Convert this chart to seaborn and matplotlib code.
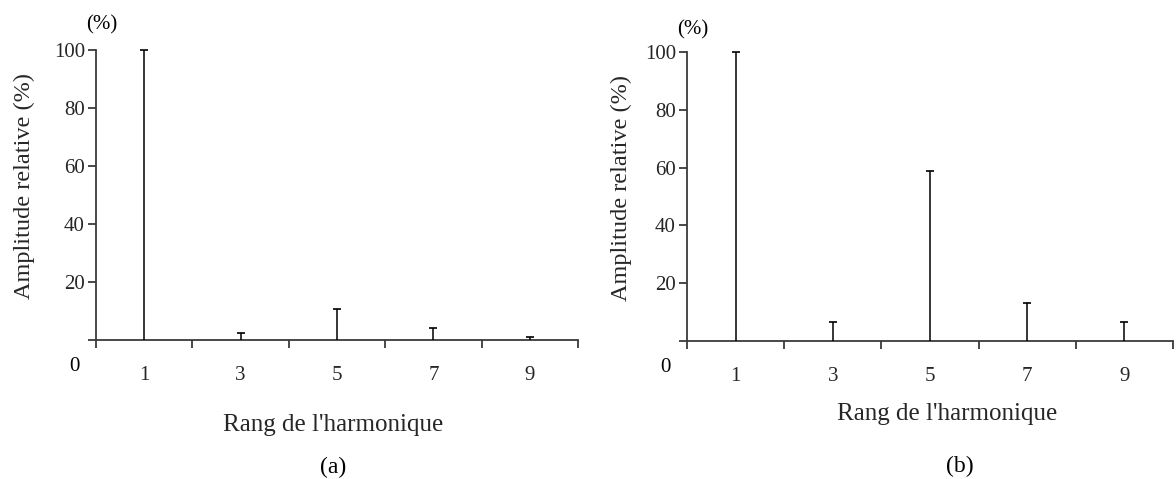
import numpy as np
import pandas as pd
import matplotlib
matplotlib.use("Agg")
import matplotlib.pyplot as plt
import seaborn as sns

# harmonic ranks and relative amplitudes (%)
rangs = [1, 3, 5, 7, 9]
amplitude_a = [100, 2.5, 10.8, 4.3, 1.0]
amplitude_b = [100, 6.6, 59, 13.2, 6.6]
panel_names = ["(a)", "(b)"]
y_ticks = [0, 20, 40, 60, 80, 100]
y_tick_labels = ["", "20", "40", "60", "80", "100"]
x_major = [0, 2, 4, 6, 8, 10]

sns.set_style("ticks")
plt.rcParams["font.family"] = ["Liberation Serif", "DejaVu Serif"]
plt.rcParams["text.color"] = "black"

fig = plt.figure(figsize=(11.76, 4.79), dpi=100)
ax_a = fig.add_axes([0.0816, 0.2902, 0.4099, 0.6054])
ax_b = fig.add_axes([0.5842, 0.2881, 0.4133, 0.6033])

line_col = "#3a3a3a"


def draw_panel(ax, values, name, xlab_pos, name_pos, ylab_x, pct_y):
    df = pd.DataFrame({"rang": rangs, "amp": values})
    # stems
    ax.vlines(df["rang"], 0, df["amp"], color="black", lw=1.1, zorder=3)
    # little caps on top of each stem
    sns.scatterplot(data=df, x="rang", y="amp", marker="_", s=40,
                    color="black", linewidth=1.2, ax=ax, zorder=4, clip_on=False)

    ax.set_xlim(0, 10)
    ax.set_ylim(0, 100)
    sns.despine(ax=ax)
    for side in ["left", "bottom"]:
        ax.spines[side].set_color(line_col)
        ax.spines[side].set_linewidth(1.3)

    ax.set_yticks(y_ticks)
    ax.set_yticklabels(y_tick_labels)
    ax.tick_params(axis="y", length=6, width=1.3, color=line_col,
                   labelsize=15, pad=2)

    # even positions carry the tick marks, odd ranks carry the labels
    ax.set_xticks(x_major)
    ax.set_xticklabels([])
    ax.set_xticks(rangs, minor=True)
    ax.set_xticklabels([str(r) for r in rangs], minor=True)
    ax.tick_params(axis="x", which="major", length=6, width=1.3, color=line_col)
    ax.tick_params(axis="x", which="minor", length=0, labelsize=15, pad=19)

    ax.text(-0.045, -0.092, "0", transform=ax.transAxes, fontsize=15,
            ha="center", va="center")
    ax.text(0.012, pct_y, "(%)", transform=ax.transAxes, fontsize=15,
            ha="center", va="center")

    ax.set_xlabel("Rang de l'harmonique", fontsize=18)
    ax.xaxis.set_label_coords(xlab_pos[0], xlab_pos[1])
    ax.set_ylabel("Amplitude relative (%)", fontsize=17.5)
    ax.yaxis.set_label_coords(ylab_x, 0.53)
    ax.text(name_pos[0], name_pos[1], name, transform=ax.transAxes,
            fontsize=17, ha="center", va="center")


draw_panel(ax_a, amplitude_a, panel_names[0], (0.492, -0.255), (0.492, -0.44), -0.127, 1.085)
draw_panel(ax_b, amplitude_b, panel_names[1], (0.535, -0.215), (0.562, -0.435), -0.113, 1.075)

fig.savefig("out.png", dpi=100)
